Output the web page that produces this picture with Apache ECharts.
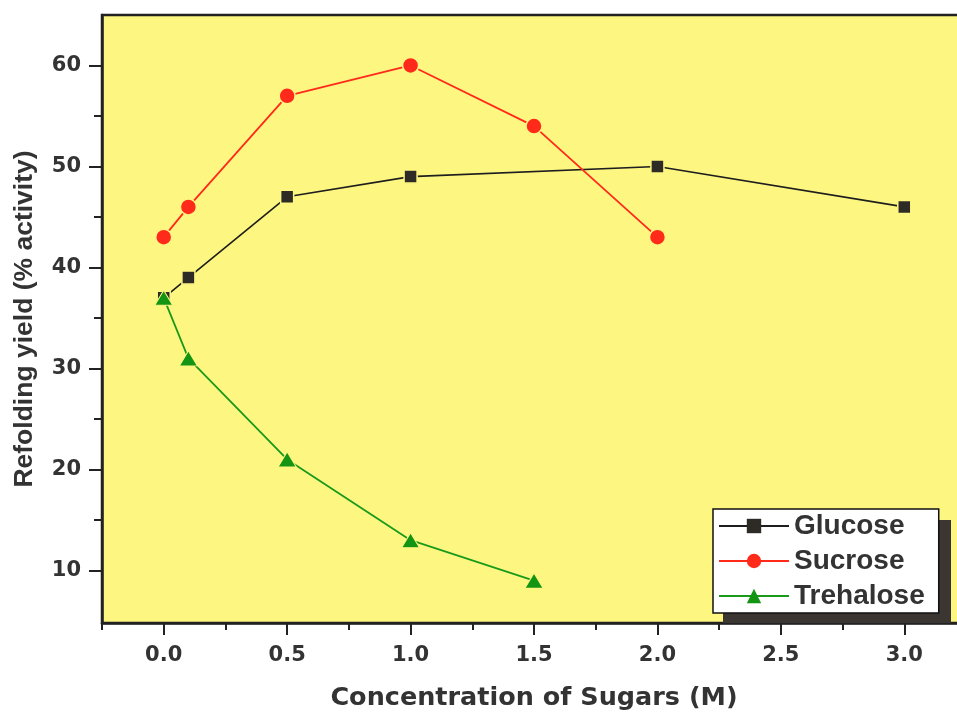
<!DOCTYPE html>
<html>
<head>
<meta charset="utf-8">
<script src="https://cdn.jsdelivr.net/npm/echarts@6.0.0/dist/echarts.min.js"></script>
<style>
html,body{margin:0;padding:0;background:#fff;}
#chart{width:957px;height:714px;}
</style>
</head>
<body>
<div id="chart"></div>
<script>
// ---- data ----
const glucoseX = [0, 0.1, 0.5, 1.0, 2.0, 3.0];
const glucoseY = [37, 39, 47, 49, 50, 46];
const sucroseX = [0, 0.1, 0.5, 1.0, 1.5, 2.0];
const sucroseY = [43, 46, 57, 60, 54, 43];
const trehaloseX = [0, 0.1, 0.5, 1.0, 1.5];
const trehaloseY = [37, 31, 21, 13, 9];
const xMajorTicks = [0, 0.5, 1.0, 1.5, 2.0, 2.5, 3.0];
const xMinorTicks = [-0.25, 0.25, 0.75, 1.25, 1.75, 2.25, 2.75];
const yMajorTicks = [10, 20, 30, 40, 50, 60];
const yMinorTicks = [15, 25, 35, 45, 55];
const seriesNames = ['Glucose', 'Sucrose', 'Trehalose'];
const xTitle = 'Concentration of Sugars (M)';
const yTitle = 'Refolding yield (% activity)';

const pairs = (xs, ys) => xs.map((x, i) => [x, ys[i]]);
const TXT = '#333333';
const AX = '#222222';
const YEL = '#FDF681';
const axisFont = 'DejaVu Sans';

const chart = echarts.init(document.getElementById('chart'), null, {renderer: 'canvas'});
chart.setOption({
  backgroundColor: '#ffffff',
  animation: false,
  grid: {
    left: 102, top: 15, width: 864, height: 608,
    containLabel: false, outerBoundsMode: 'none',
    show: true, backgroundColor: YEL, borderColor: AX, borderWidth: 2.5
  },
  graphic: [{
    // decorative drop shadow behind the legend box
    type: 'rect', z: 3, silent: true,
    shape: {x: 723, y: 520, width: 228, height: 103},
    style: {fill: '#3b3631'}
  }],
  xAxis: [{
    type: 'value', min: -0.25, max: 3.25,
    axisLine: {show: true, onZero: false, lineStyle: {color: AX, width: 2.5}},
    axisTick: {show: true, inside: false, length: 12, lineStyle: {color: AX, width: 2}, customValues: xMajorTicks},
    axisLabel: {show: true, customValues: xMajorTicks, margin: 22, color: TXT,
      fontFamily: axisFont, fontWeight: 'bold', fontSize: 21,
      formatter: v => Number(v).toFixed(1)},
    splitLine: {show: false},
    name: xTitle, nameLocation: 'middle', nameGap: 62,
    nameTextStyle: {color: TXT, fontFamily: axisFont, fontWeight: 'bold', fontSize: 25.5}
  }, {
    type: 'value', min: -0.25, max: 3.25, position: 'bottom',
    axisLine: {show: false, onZero: false},
    axisTick: {show: true, inside: false, length: 7, lineStyle: {color: AX, width: 2}, customValues: xMinorTicks},
    axisLabel: {show: false},
    splitLine: {show: false}
  }],
  yAxis: [{
    type: 'value', min: 4.8, max: 65,
    axisLine: {show: true, onZero: false, lineStyle: {color: AX, width: 2.5}},
    axisTick: {show: true, inside: false, length: 13, lineStyle: {color: AX, width: 2}, customValues: yMajorTicks},
    axisLabel: {show: true, customValues: yMajorTicks, margin: 21, color: TXT,
      fontFamily: axisFont, fontWeight: 'bold', fontSize: 21},
    splitLine: {show: false},
    name: yTitle, nameLocation: 'middle', nameGap: 64, nameRotate: 90,
    nameTextStyle: {color: TXT, fontFamily: 'Liberation Sans', fontWeight: 'bold', fontSize: 26.5}
  }, {
    type: 'value', min: 4.8, max: 65, position: 'left',
    axisLine: {show: false, onZero: false},
    axisTick: {show: true, inside: false, length: 8, lineStyle: {color: AX, width: 2}, customValues: yMinorTicks},
    axisLabel: {show: false},
    splitLine: {show: false}
  }],
  legend: {
    show: true, orient: 'vertical', z: 10,
    left: 713, top: 509,
    padding: [3, 14, 3, 5],
    itemGap: 7, itemWidth: 70, itemHeight: 18,
    backgroundColor: '#ffffff', borderColor: '#111111', borderWidth: 1.5, borderRadius: 0,
    itemStyle: {borderWidth: 0},
    textStyle: {color: TXT, fontFamily: 'Liberation Sans', fontWeight: 'bold', fontSize: 28, lineHeight: 28},
    data: seriesNames
  },
  series: [{
    name: seriesNames[0], type: 'line', xAxisIndex: 0, yAxisIndex: 0,
    data: pairs(glucoseX, glucoseY),
    symbol: 'rect', symbolSize: 13,
    lineStyle: {color: '#1e1e1e', width: 1.6},
    itemStyle: {color: '#2e2a26', borderColor: YEL, borderWidth: 1.5}
  }, {
    name: seriesNames[1], type: 'line', xAxisIndex: 0, yAxisIndex: 0,
    data: pairs(sucroseX, sucroseY),
    symbol: 'circle', symbolSize: 16,
    lineStyle: {color: '#FF2A1A', width: 1.8},
    itemStyle: {color: '#FF2A1A', borderColor: YEL, borderWidth: 1.5}
  }, {
    name: seriesNames[2], type: 'line', xAxisIndex: 0, yAxisIndex: 0,
    data: pairs(trehaloseX, trehaloseY),
    symbol: 'triangle', symbolSize: [18, 15],
    lineStyle: {color: '#1A9A1A', width: 1.8},
    itemStyle: {color: '#139413', borderColor: YEL, borderWidth: 1}
  }]
});
</script>
</body>
</html>
